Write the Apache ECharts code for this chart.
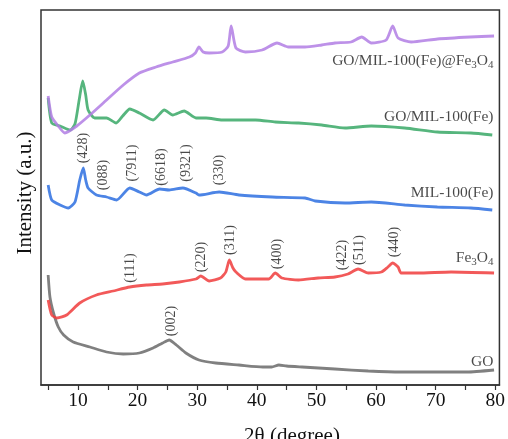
<!DOCTYPE html>
<html>
<head>
<meta charset="utf-8">
<script src="https://cdn.jsdelivr.net/npm/echarts@6/dist/echarts.min.js"></script>
<style>
  html, body { margin: 0; padding: 0; background: #fff; }
  #chart { width: 508px; height: 439px; }
</style>
</head>
<body>
<div id="chart"></div>
<script>
// XRD patterns, stacked with vertical offsets (intensity in arbitrary units)
const goMilFe3o4 = [
  [5.0, 289], [5.6, 268], [6.7, 259], [7.8, 252], [9.8, 259], [12.0, 270], [14.8, 285],
  [17.6, 300], [20.3, 312], [23.1, 318], [25.9, 323], [28.7, 328], [29.7, 332], [30.3, 338],
  [31.0, 333], [32.0, 332], [34.2, 333], [35.2, 339], [35.7, 359], [36.5, 337], [38.1, 333],
  [40.9, 335], [43.4, 342], [45.3, 338], [48.1, 338], [50.9, 340], [53.1, 342], [55.8, 343],
  [57.6, 348], [59.2, 342], [61.7, 345], [62.8, 359], [63.7, 347], [65.9, 343], [70.3, 346],
  [75.8, 348], [79.8, 349]
];
const goMil = [
  [5.0, 287], [5.6, 262], [7.0, 259], [8.7, 255], [9.5, 261], [10.2, 285], [10.8, 304],
  [11.3, 290], [11.7, 275], [12.8, 267], [14.8, 267], [16.4, 262], [17.5, 269], [18.7, 276],
  [20.3, 272], [22.6, 265], [24.5, 275], [25.9, 270], [27.8, 274], [29.8, 267], [31.5, 267],
  [34.2, 265], [37.0, 265], [39.8, 265], [43.1, 263], [47.0, 262], [50.9, 260], [54.8, 257],
  [59.2, 259], [64.8, 257], [70.3, 253], [75.9, 252], [79.5, 250]
];
const mil100 = [
  [5.0, 200], [5.6, 185], [7.0, 180], [8.4, 177], [9.5, 183], [10.3, 205], [10.9, 217],
  [11.3, 205], [11.7, 197], [13.1, 190], [14.8, 188], [16.5, 185], [18.7, 197], [20.3, 193],
  [21.5, 190], [23.7, 196], [25.3, 195], [27.6, 197], [29.8, 192], [30.3, 190], [33.7, 193],
  [37.0, 190], [42.6, 188], [48.1, 187], [49.8, 184], [54.8, 182], [59.2, 183], [64.8, 180],
  [70.3, 178], [75.9, 177], [79.5, 175]
];
const fe3o4 = [
  [5.0, 85], [5.6, 70], [6.5, 67], [8.1, 70], [10.3, 82], [13.1, 90], [15.9, 94], [18.7, 98],
  [21.5, 100], [24.2, 101], [27.0, 103], [29.8, 106], [30.6, 109], [32.0, 104], [33.9, 107],
  [34.8, 113], [35.4, 125], [36.0, 117], [36.5, 113], [38.1, 106], [42.0, 106], [43.1, 112],
  [44.2, 107], [47.0, 105], [50.3, 107], [53.1, 108], [55.3, 111], [57.0, 116], [58.7, 112],
  [60.9, 113], [62.0, 118], [62.8, 122], [63.7, 118], [64.2, 112], [67.0, 112], [72.6, 113],
  [79.8, 112]
];
const go = [
  [5.0, 110], [5.3, 88], [5.9, 72], [6.7, 58], [7.6, 50], [9.2, 43], [12.0, 38], [14.8, 33],
  [17.6, 31], [20.3, 32], [22.6, 37], [24.2, 42], [25.3, 45], [26.5, 40], [28.1, 32],
  [30.3, 25], [33.1, 22], [37.0, 20], [41.0, 18], [42.5, 18], [43.7, 20], [45.0, 19],
  [47.6, 18], [53.1, 16], [58.7, 14], [64.2, 13], [69.8, 13], [75.3, 13], [79.8, 15]
];

// Miller-index annotations: [2θ, height, text]
const peakLabels = [
  [10.9, 237, '(428)'], [14.2, 210, '(088)'], [19.2, 222, '(7911)'], [24.0, 218, '(6618)'],
  [28.1, 222, '(9321)'], [33.7, 215, '(330)'],
  [18.8, 117, '(111)'], [30.7, 128, '(220)'], [35.6, 145, '(311)'], [43.4, 131, '(400)'],
  [54.4, 130, '(422)'], [57.2, 135, '(511)'], [63.0, 143, '(440)'],
  [25.6, 64, '(002)']
];

// Sample names placed at the right end of each trace: [2θ, height, text]
const sampleNames = [
  [79.7, 324, 'GO/MIL-100(Fe)@Fe{s|3}O{s|4}'],
  [79.7, 268, 'GO/MIL-100(Fe)'],
  [79.7, 192, 'MIL-100(Fe)'],
  [79.7, 127, 'Fe{s|3}O{s|4}'],
  [79.7, 23, 'GO']
];

const xLabelTicks = [10, 20, 30, 40, 50, 60, 70, 80];
const xMinorTicks = [5, 10, 15, 20, 25, 30, 35, 40, 45, 50, 55, 60, 65, 70, 75, 80];

const serif = '"Liberation Serif", "Times New Roman", serif';

function trace(name, data, color) {
  return {
    name: name,
    type: 'line',
    data: data,
    smooth: 0.2,
    symbol: 'none',
    lineStyle: { color: color, width: 2.8, opacity: 0.85 },
    z: 3
  };
}

const chart = echarts.init(document.getElementById('chart'), null, { renderer: 'canvas' });
chart.setOption({
  animation: false,
  backgroundColor: '#fff',
  grid: {
    left: 41, right: 6, top: 10, bottom: 54,
    show: true, borderColor: '#333', borderWidth: 1.5, backgroundColor: 'transparent'
  },
  xAxis: {
    type: 'value',
    min: 3.8, max: 80.7,
    axisLine: { show: true, lineStyle: { color: '#333', width: 1.5 } },
    axisTick: {
      show: true, inside: false, length: 5,
      customValues: xMinorTicks,
      lineStyle: { color: '#333', width: 1.2 }
    },
    axisLabel: {
      customValues: xLabelTicks,
      color: '#111', fontFamily: serif, fontSize: 19.5, margin: 6
    },
    splitLine: { show: false }
  },
  yAxis: {
    type: 'value',
    min: 0, max: 375,
    axisLine: { show: false },
    axisTick: { show: false },
    axisLabel: { show: false },
    splitLine: { show: false }
  },
  graphic: [
    {
      type: 'text',
      x: 25, y: 193, rotation: Math.PI / 2,
      style: {
        text: 'Intensity (a.u.)', fill: '#111',
        font: '21px ' + serif, align: 'center', verticalAlign: 'middle'
      }
    },
    {
      type: 'text',
      x: 292, y: 436,
      style: {
        text: '2θ (degree)', fill: '#111',
        font: '21px ' + serif, align: 'center', verticalAlign: 'middle'
      }
    }
  ],
  series: [
    trace('GO', go, '#6a6a6a'),
    trace('Fe3O4', fe3o4, '#f03c3c'),
    trace('MIL-100(Fe)', mil100, '#2d6fe0'),
    trace('GO/MIL-100(Fe)', goMil, '#38a866'),
    trace('GO/MIL-100(Fe)@Fe3O4', goMilFe3o4, '#b27ee4'),
    {
      name: 'peaks',
      type: 'scatter',
      symbolSize: 0,
      data: peakLabels.map(p => ({ value: [p[0], p[1]], label: { formatter: p[2] } })),
      label: {
        show: true, position: 'inside', rotate: 90,
        color: '#1a1a1a', fontFamily: serif, fontSize: 14
      },
      silent: true,
      z: 5
    },
    {
      name: 'names',
      type: 'scatter',
      symbolSize: 0,
      data: sampleNames.map(p => ({ value: [p[0], p[1]], label: { formatter: p[2] } })),
      label: {
        show: true, position: 'left', distance: 0,
        color: '#1a1a1a', fontFamily: serif, fontSize: 15.5,
        rich: {
          s: { fontFamily: serif, fontSize: 11, color: '#1a1a1a', padding: [9, 0, 0, 0] }
        }
      },
      silent: true,
      z: 5
    }
  ]
});
</script>
</body>
</html>
